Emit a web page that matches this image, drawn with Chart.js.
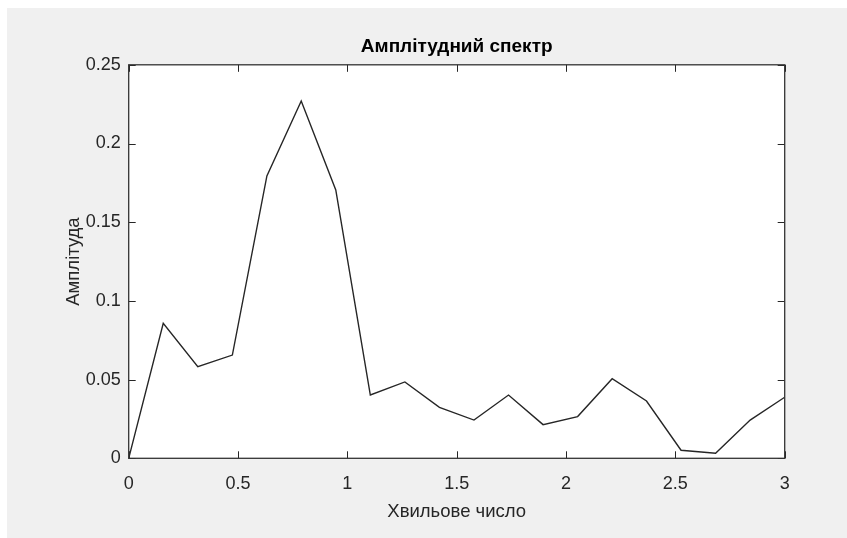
<!DOCTYPE html>
<html>
<head>
<meta charset="utf-8">
<script src="https://cdn.jsdelivr.net/npm/chart.js@4.4.1/dist/chart.umd.min.js"></script>
<style>
  html, body { margin: 0; padding: 0; background: #ffffff; }
  #wrap { width: 847px; height: 538px; }
</style>
</head>
<body>
<div id="wrap"><canvas id="c" width="847" height="538"></canvas></div>
<script>
// Wave numbers (x) and spectrum amplitudes (y)
const waveNumbers = [0, 0.158, 0.316, 0.474, 0.632, 0.789, 0.947, 1.105, 1.263, 1.421,
                     1.579, 1.737, 1.895, 2.053, 2.211, 2.368, 2.526, 2.684, 2.842, 3.0];
const amplitudes  = [0, 0.0858, 0.0582, 0.0656, 0.1794, 0.2270, 0.1705, 0.0402, 0.0485, 0.0324,
                     0.0243, 0.0402, 0.0214, 0.0265, 0.0506, 0.0364, 0.0051, 0.0032, 0.0243, 0.0388];
const xTicks = [0, 0.5, 1, 1.5, 2, 2.5, 3];
const yTicks = [0, 0.05, 0.1, 0.15, 0.2, 0.25];

const titleText = 'Амплітудний спектр';
const xLabel = 'Хвильове число';
const yLabel = 'Амплітуда';

const points = waveNumbers.map((x, i) => ({ x: x, y: amplitudes[i] }));

const AXIS = '#262626';
const FONT = '"Liberation Sans", Arial, sans-serif';

// Figure background, white axes area, box and inward tick marks
const axesBox = {
  id: 'axesBox',
  beforeDraw(chart) {
    const ctx = chart.ctx;
    const a = chart.chartArea;
    ctx.save();
    ctx.fillStyle = '#f0f0f0';
    ctx.fillRect(7, 8, chart.width - 7, chart.height - 8);
    ctx.fillStyle = '#ffffff';
    ctx.fillRect(a.left, a.top, a.right - a.left, a.bottom - a.top);
    ctx.restore();
  },
  afterDatasetsDraw(chart) {
    const ctx = chart.ctx;
    const a = chart.chartArea;
    const xs = chart.scales.x, ys = chart.scales.y;
    const len = 7;
    ctx.save();
    ctx.strokeStyle = AXIS;
    ctx.lineWidth = 1;
    ctx.beginPath();
    xTicks.forEach(v => {
      const px = Math.round(xs.getPixelForValue(v)) + 0.5;
      ctx.moveTo(px, a.bottom); ctx.lineTo(px, a.bottom - len);
      ctx.moveTo(px, a.top); ctx.lineTo(px, a.top + len);
    });
    yTicks.forEach(v => {
      const py = Math.round(ys.getPixelForValue(v)) + 0.5;
      ctx.moveTo(a.left, py); ctx.lineTo(a.left + len, py);
      ctx.moveTo(a.right, py); ctx.lineTo(a.right - len, py);
    });
    ctx.stroke();
    ctx.lineWidth = 1.3;
    ctx.strokeStyle = '#333333';
    ctx.strokeRect(a.left, a.top, a.right - a.left, a.bottom - a.top);
    ctx.restore();
  }
};

new Chart(document.getElementById('c'), {
  type: 'line',
  data: {
    datasets: [{
      data: points,
      borderColor: AXIS,
      borderWidth: 1.4,
      pointRadius: 0,
      tension: 0,
      fill: false
    }]
  },
  options: {
    responsive: false,
    animation: false,
    events: [],
    layout: { padding: { left: 0, right: 62.3, top: 0, bottom: 0 } },
    plugins: {
      legend: { display: false },
      tooltip: { enabled: false },
      title: {
        display: true,
        text: titleText,
        fullSize: false,
        color: '#000000',
        font: { family: FONT, size: 19, weight: 'bold' },
        padding: { top: 35.5, bottom: 6.5 }
      }
    },
    scales: {
      x: {
        type: 'linear',
        min: 0, max: 3,
        afterFit(s) { s.height = 79.7; },
        afterBuildTicks(s) { s.ticks = xTicks.map(v => ({ value: v })); },
        grid: { display: false, drawTicks: false },
        border: { display: false },
        ticks: {
          color: AXIS,
          padding: 15,
          maxRotation: 0,
          font: { family: FONT, size: 18 },
          callback: v => String(v)
        },
        title: {
          display: true, text: xLabel, color: AXIS,
          font: { family: FONT, size: 18.5 },
          padding: { top: 0, bottom: 15 }
        }
      },
      y: {
        type: 'linear',
        min: 0, max: 0.25,
        afterFit(s) { s.width = 128.7; },
        afterBuildTicks(s) { s.ticks = yTicks.map(v => ({ value: v })); },
        grid: { display: false, drawTicks: false },
        border: { display: false },
        ticks: {
          color: AXIS,
          padding: 8,
          font: { family: FONT, size: 18 },
          callback: v => String(v)
        },
        title: {
          display: true, text: yLabel, color: AXIS,
          font: { family: FONT, size: 18.5 },
          padding: { top: 62.5, bottom: 0 }
        }
      }
    }
  },
  plugins: [axesBox]
});
</script>
</body>
</html>
